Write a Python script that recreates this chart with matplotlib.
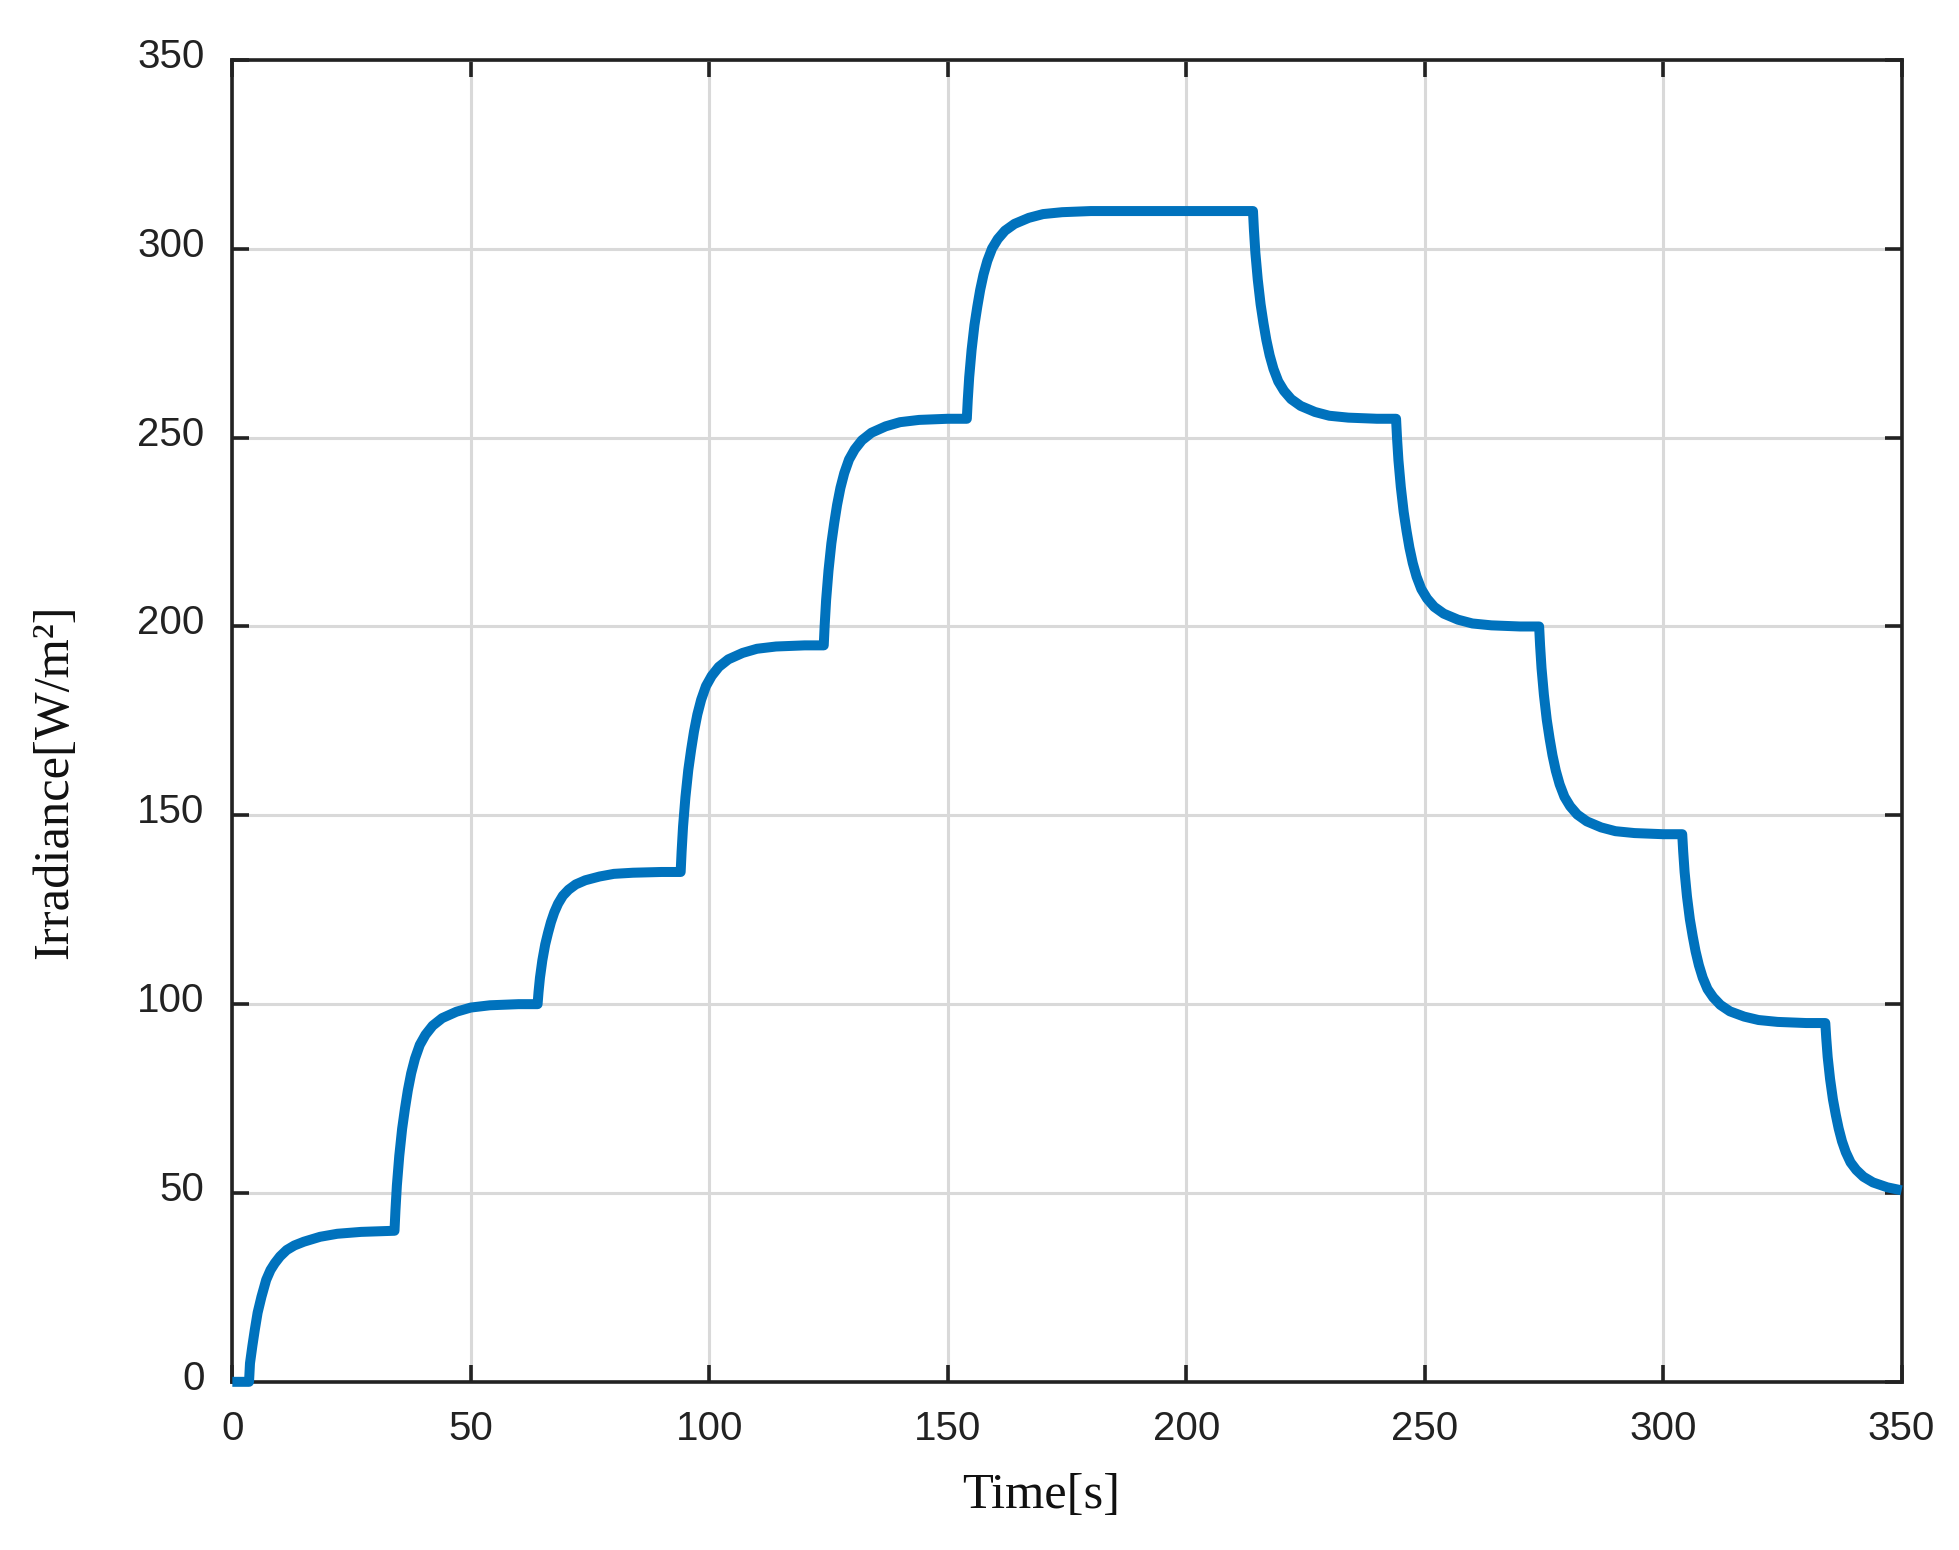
import numpy as np
import matplotlib.pyplot as plt
import matplotlib.transforms as mtransforms

# step instants [s] (first one read separately below)
step_t = [34, 64, 94, 124, 154, 214, 244, 274, 304, 334]

# time after each step [s] at which the levels below were read
rise_dt = [0, 0.2, 0.5, 1.0, 1.6, 2.2, 2.8, 3.5, 4.3, 5.3, 6.5, 8, 10, 13, 16, 20, 26]

# first rise, 0 -> 40 W/m2
t_first = [0, 3.5, 3.7, 4.2, 4.7, 5.3, 6.1, 7.1, 8.0, 8.9, 10.0, 11.4, 13.0, 15.0, 18.4, 22.0, 27.0]
g_first = [0, 0, 4.9, 9.5, 13.7, 18.3, 22.5, 27.0, 29.6, 31.4, 33.2, 34.9, 36.1, 37.1, 38.4, 39.2, 39.7]

# irradiance after each step [W/m2]
g_steps = [
    [40, 45.4, 52, 59.8, 67, 72.4, 77.2, 81.7, 85.6, 89.2, 91.9, 94.3, 96.3, 98.0, 99.1, 99.7, 100],
    [100, 103.2, 107, 111.6, 115.8, 118.9, 121.7, 124.3, 126.6, 128.7, 130.3, 131.7, 132.8, 133.8, 134.5, 134.8, 135],
    [135, 140.4, 147, 154.8, 162, 167.4, 172.2, 176.7, 180.6, 184.2, 186.9, 189.3, 191.3, 193.0, 194.1, 194.7, 195],
    [195, 200.4, 207, 214.8, 222, 227.4, 232.2, 236.7, 240.6, 244.2, 246.9, 249.3, 251.3, 253.0, 254.1, 254.7, 255],
    [255, 260.0, 266, 273.2, 279.8, 284.7, 289.1, 293.2, 296.8, 300.1, 302.6, 304.8, 306.6, 308.2, 309.2, 309.7, 310],
    [310, 305.0, 299, 291.9, 285.3, 280.3, 275.9, 271.8, 268.2, 264.9, 262.4, 260.2, 258.4, 256.8, 255.8, 255.3, 255],
    [255, 250.0, 244, 236.9, 230.3, 225.3, 220.9, 216.8, 213.2, 209.9, 207.4, 205.2, 203.4, 201.8, 200.8, 200.3, 200],
    [200, 195.0, 189, 181.9, 175.3, 170.3, 165.9, 161.8, 158.2, 154.9, 152.4, 150.2, 148.4, 146.8, 145.8, 145.3, 145],
    [145, 140.5, 135, 128.5, 122.5, 118.0, 114.0, 110.3, 107.0, 104.0, 101.8, 99.8, 98.1, 96.7, 95.8, 95.3, 95],
    [95, 91.0, 86, 80.2, 74.8, 70.7, 67.1, 63.7, 60.8, 58.1, 56.1, 54.3, 52.8, 51.5, 50.7],
]

ticks = [0, 50, 100, 150, 200, 250, 300, 350]

t_arr = list(t_first)
g_arr = list(g_first)
for T, g in zip(step_t, g_steps):
    for dt, v in zip(rise_dt, g):
        t_arr.append(T + dt)
        g_arr.append(v)

fig = plt.figure(figsize=(9.795, 7.75), dpi=200)
ax = fig.add_axes([0.1186, 0.1085, 0.8521, 0.8528])

ax.plot(t_arr, g_arr, color='#0072BD', lw=3.6, solid_joinstyle='round',
        solid_capstyle='butt', clip_on=False, zorder=3)

ax.set_xlim(0, 350)
ax.set_ylim(0, 350)
ax.set_xticks(ticks)
ax.set_yticks(ticks)
ax.grid(True, color='#d9d9d9', lw=1.1)
ax.set_axisbelow(True)

for s in ax.spines.values():
    s.set_color('#222222')
    s.set_linewidth(1.3)
ax.tick_params(direction='in', length=6, width=1.3, color='#222222',
               top=True, right=True, labelsize=14.5, labelcolor='#222222', pad=10)
for lab in ax.get_xticklabels() + ax.get_yticklabels():
    lab.set_family('Liberation Sans')
# y labels sit a little above their grid lines in the original
lift = mtransforms.ScaledTranslation(0, 0.035, fig.dpi_scale_trans)
for lab in ax.get_yticklabels():
    lab.set_transform(lab.get_transform() + lift)

fig.text(0.5316, 0.0352, 'Time[s]', ha='center', va='center',
         family='Liberation Serif', fontsize=18.2, color='#111111')
fig.text(0.0281, 0.4955, 'Irradiance[W/m²]', ha='center', va='center', rotation=90,
         family='Liberation Serif', fontsize=18.2, color='#111111')

fig.savefig('out.png', dpi=200)
